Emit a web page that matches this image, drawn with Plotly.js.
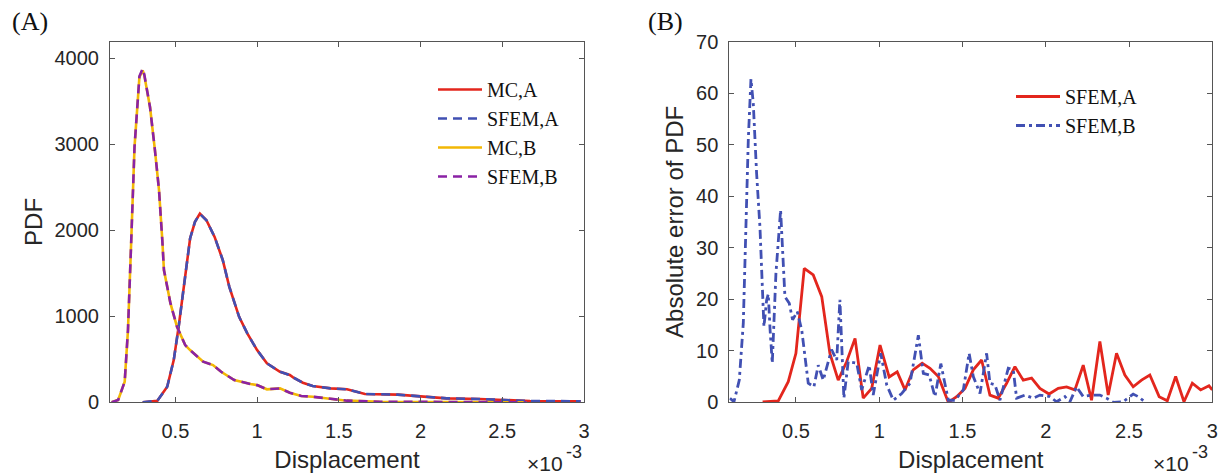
<!DOCTYPE html>
<html>
<head>
<meta charset="utf-8">
<script src="https://cdn.plot.ly/plotly-3.0.1.min.js"></script>
<style>html,body{margin:0;padding:0;background:#fff;}#chart{width:1225px;height:475px;}</style>
</head>
<body>
<div id="chart"></div>
<script>
// ---------- Panel (A): PDF of displacement (x in units of 1e-3) ----------
var dispA = [0.30,0.39,0.45,0.49,0.52,0.55,0.59,0.62,0.65,0.69,0.74,0.79,0.83,0.89,0.94,1.00,1.06,1.14,1.20,1.22,1.28,1.34,1.45,1.55,1.66,1.86,2.00,2.16,2.36,2.51,2.67,2.98];
var pdfMCA   = [0,19,181,491,878,1343,1905,2098,2195,2117,1923,1653,1343,994,801,607,453,355,317,290,228,189,162,151,97,89,65,46,38,27,15,12];
var pdfSFEMA = [0,19,181,491,878,1343,1905,2100,2190,2117,1923,1653,1343,994,801,607,453,355,317,290,228,189,162,151,97,89,65,46,38,27,15,12];

var dispB = [0.11,0.15,0.19,0.21,0.23,0.25,0.28,0.30,0.31,0.345,0.375,0.40,0.42,0.43,0.47,0.51,0.56,0.59,0.67,0.73,0.78,0.86,0.96,1.00,1.06,1.14,1.20,1.27,1.34,1.45,1.55,1.75,2.00,2.30,2.65];
var pdfMCB   = [0,27,240,840,1885,2970,3780,3860,3800,3430,2930,2465,1885,1537,1150,878,665,607,472,433,355,259,212,200,151,162,112,73,65,38,19,7,3,1,0];
var pdfSFEMB = [0,27,240,840,1885,2970,3790,3880,3810,3430,2930,2465,1885,1537,1150,878,665,607,472,433,355,259,212,200,151,162,112,73,65,38,19,7,3,1,0];

// ---------- Panel (B): absolute error of PDF ----------
var dispErrA = [0.30,0.394,0.454,0.50,0.55,0.604,0.655,0.704,0.754,0.805,0.855,0.904,0.955,1.005,1.06,1.108,1.155,1.204,1.258,1.305,1.355,1.415,1.465,1.515,1.565,1.615,1.665,1.715,1.765,1.815,1.865,1.915,1.965,2.02,2.075,2.125,2.175,2.225,2.275,2.325,2.375,2.425,2.475,2.525,2.575,2.625,2.681,2.73,2.78,2.83,2.88,2.93,2.98,3.0];
var errSFEMA = [0.1,0.25,4,9.5,26,24.7,20.5,9.5,4.3,7.9,12.4,0.8,2.7,11.1,4.9,5.9,2.4,6.3,7.6,6.6,5,0,1.1,2.7,6.3,8.2,1.4,0.8,3.7,6.9,4.3,4.7,2.7,1.6,2.7,3,2.4,7.2,0.4,11.8,1.4,9.5,5.3,3,4.3,5.3,1.1,0.3,5,0.1,3.7,2.4,3.2,2.4];

var dispErrB = [0.104,0.128,0.16,0.184,0.214,0.23,0.244,0.264,0.284,0.308,0.324,0.334,0.345,0.358,0.38,0.408,0.434,0.46,0.48,0.508,0.535,0.574,0.608,0.634,0.664,0.714,0.745,0.764,0.788,0.814,0.865,0.895,0.94,0.964,1.009,1.045,1.085,1.135,1.185,1.235,1.265,1.3,1.335,1.37,1.415,1.455,1.505,1.54,1.565,1.605,1.645,1.665,1.695,1.725,1.775,1.805,1.825,1.875,1.925,1.965,2.025,2.065,2.115,2.145,2.185,2.225,2.275,2.325,2.365,2.405,2.465,2.525,2.555,2.595];
var errSFEMB = [0.8,0.1,4.3,15.3,50.9,62.7,58,44.4,34,14.7,19.8,21,14,7.6,25,37.3,20.5,19.2,16,17.6,14,3.7,3,7.2,4.3,10.2,8.2,19.9,0.8,7.9,7.6,2.4,7.2,1.4,9.5,3.4,0.4,1.7,3.7,13,5.6,5.3,1.1,7.5,0.4,0.4,2.4,9.5,5,1.7,9.5,3.7,3.4,0.4,6.6,6.3,0.8,1.4,0.8,1.4,1.1,0.1,1.1,0.1,3,1.1,1.4,1.4,0.8,0,0.1,1.6,1.1,0.1];

// ---------- Tick labels ----------
var xTickVals = [0.5,1,1.5,2,2.5,3];
var xTickText = ['0.5','1','1.5','2','2.5','3'];
var yTickValsA = [0,1000,2000,3000,4000];
var yTickTextA = ['0','1000','2000','3000','4000'];
var yTickValsB = [0,10,20,30,40,50,60,70];
var yTickTextB = ['0','10','20','30','40','50','60','70'];

var RED = '#e3261d', BLUE = '#4150b3', YEL = '#f2b705', PUR = '#8a22a5';
var INK = '#262626', AXC = '#555555';
var tickFont = {family: 'Liberation Sans, Arial, sans-serif', size: 20, color: INK};
var titleFont = {family: 'Liberation Sans, Arial, sans-serif', size: 24, color: INK};
var legFont = {family: 'Liberation Serif, Times New Roman, serif', size: 20, color: '#111'};

var traces = [
  {x: dispA, y: pdfMCA, name: 'MC,A', mode: 'lines', line: {color: RED, width: 2.6}, xaxis: 'x', yaxis: 'y', legend: 'legend'},
  {x: dispA, y: pdfSFEMA, name: 'SFEM,A', mode: 'lines', line: {color: BLUE, width: 2.6, dash: '9px,6px'}, xaxis: 'x', yaxis: 'y', legend: 'legend'},
  {x: dispB, y: pdfMCB, name: 'MC,B', mode: 'lines', line: {color: YEL, width: 2.6}, xaxis: 'x', yaxis: 'y', legend: 'legend'},
  {x: dispB, y: pdfSFEMB, name: 'SFEM,B', mode: 'lines', line: {color: PUR, width: 2.6, dash: '9px,6px'}, xaxis: 'x', yaxis: 'y', legend: 'legend'},
  {x: dispErrA, y: errSFEMA, name: 'SFEM,A', mode: 'lines', line: {color: RED, width: 2.8}, xaxis: 'x2', yaxis: 'y2', legend: 'legend2'},
  {x: dispErrB, y: errSFEMB, name: 'SFEM,B', mode: 'lines', line: {color: BLUE, width: 2.8, dash: '9px,4px,3px,4px'}, xaxis: 'x2', yaxis: 'y2', legend: 'legend2'}
];

function xax(domain, anchor) {
  return {domain: domain, anchor: anchor, range: [0.1, 3], tickmode: 'array', tickvals: xTickVals, ticktext: xTickText,
    showline: true, mirror: 'ticks', linecolor: AXC, linewidth: 1, ticks: 'inside', ticklen: 5, tickcolor: AXC,
    showgrid: false, zeroline: false, tickfont: tickFont, ticklabelstandoff: 11,
    title: {text: 'Displacement', font: titleFont, standoff: 9}};
}
function yax(domain, anchor, range, tv, tt, title, so) {
  return {domain: domain, anchor: anchor, range: range, tickmode: 'array', tickvals: tv, ticktext: tt,
    showline: true, mirror: 'ticks', linecolor: AXC, linewidth: 1, ticks: 'inside', ticklen: 5, tickcolor: AXC,
    showgrid: false, zeroline: false, tickfont: tickFont, ticklabelstandoff: 6,
    title: {text: title, font: titleFont, standoff: so}};
}

var yDom = [1 - 402.3/475, 1 - 41.5/475];
var sansF = 'Liberation Sans, Arial, sans-serif';
var layout = {
  width: 1225, height: 475,
  margin: {l: 0, r: 0, t: 0, b: 0},
  paper_bgcolor: '#fff', plot_bgcolor: '#fff',
  xaxis: xax([110/1225, 584/1225], 'y'),
  yaxis: yax(yDom, 'x', [0, 4195], yTickValsA, yTickTextA, 'PDF', 5),
  xaxis2: xax([729.3/1225, 1212.3/1225], 'y2'),
  yaxis2: yax(yDom, 'x2', [0, 70], yTickValsB, yTickTextB, 'Absolute error of PDF', 5),
  legend: {x: 433/1225, y: 1 - 70/475, xanchor: 'left', yanchor: 'top', bgcolor: 'rgba(255,255,255,0)', font: legFont, borderwidth: 0, itemwidth: 44},
  legend2: {x: 1011/1225, y: 1 - 77/475, xanchor: 'left', yanchor: 'top', bgcolor: 'rgba(255,255,255,0)', font: legFont, borderwidth: 0, itemwidth: 44},
  showlegend: true,
  annotations: [
    {text: '(A)', xref: 'paper', yref: 'paper', x: 10/1225, y: 1 - 21/475, xanchor: 'left', yanchor: 'middle', showarrow: false,
     font: {family: 'Liberation Serif, Times New Roman, serif', size: 26, color: '#111'}},
    {text: '(B)', xref: 'paper', yref: 'paper', x: 646/1225, y: 1 - 21/475, xanchor: 'left', yanchor: 'middle', showarrow: false,
     font: {family: 'Liberation Serif, Times New Roman, serif', size: 26, color: '#111'}},
    {text: '×10', xref: 'paper', yref: 'paper', x: 565/1225, y: 1 - 463/475, xanchor: 'right', yanchor: 'middle', showarrow: false,
     font: {family: sansF, size: 21, color: INK}},
    {text: '-3', xref: 'paper', yref: 'paper', x: 564/1225, y: 1 - 452/475, xanchor: 'left', yanchor: 'middle', showarrow: false,
     font: {family: sansF, size: 18, color: INK}},
    {text: '×10', xref: 'paper', yref: 'paper', x: 1191/1225, y: 1 - 463/475, xanchor: 'right', yanchor: 'middle', showarrow: false,
     font: {family: sansF, size: 21, color: INK}},
    {text: '-3', xref: 'paper', yref: 'paper', x: 1190/1225, y: 1 - 452/475, xanchor: 'left', yanchor: 'middle', showarrow: false,
     font: {family: sansF, size: 18, color: INK}}
  ]
};

Plotly.newPlot('chart', traces, layout, {displayModeBar: false, staticPlot: true});
</script>
</body>
</html>
